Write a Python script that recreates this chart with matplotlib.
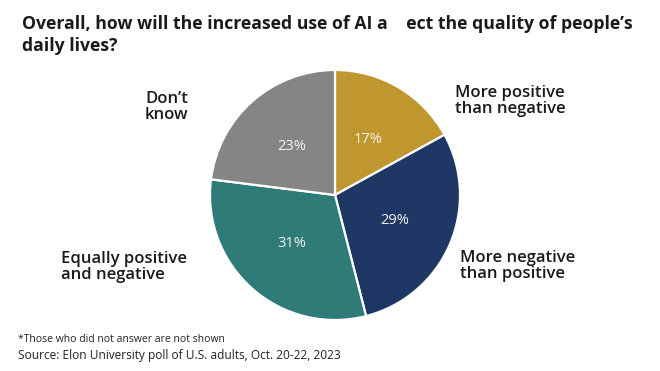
import matplotlib.pyplot as plt

plt.rcParams['font.family'] = ['Open Sans', 'DejaVu Sans']

categories = ['More positive\nthan negative', 'More negative\nthan positive',
              'Equally positive\nand negative', "Don\u2019t\nknow"]
shares = [17, 29, 31, 23]
colors = ['#C0962F', '#1E3764', '#2E7B77', '#858585']

W, H = 660, 371
fig = plt.figure(figsize=(W / 100, H / 100), dpi=100)


def px(x, y):
    return x / W, 1 - y / H


# pie: centre about (335, 195), radius ~125 px
ax = fig.add_axes([210 / W, (H - 195 - 125) / H, 250 / W, 250 / H])
wedges, texts, autotexts = ax.pie(
    shares, colors=colors, startangle=90, counterclock=False,
    autopct='%d%%', pctdistance=0.52,
    wedgeprops=dict(edgecolor='white', linewidth=1.6),
    textprops=dict(color='#f4f4f0', fontsize=10.5))
ax.set_xlim(-1, 1)
ax.set_ylim(-1, 1)
ax.set_aspect('equal')

fig.text(*px(22, 24), "Overall, how will the increased use of AI a    ect the quality of people\u2019s",
         fontsize=12.7, fontweight='bold', color='#1a1a1a', va='center', ha='left')
fig.text(*px(22, 46), "daily lives?",
         fontsize=12.7, fontweight='bold', color='#1a1a1a', va='center', ha='left')

label_pos = [(455, 101), (460, 266), (61, 267), (145, 107)]
for lab, (x, y) in zip(categories, label_pos):
    fig.text(*px(x, y), lab, fontsize=12, fontweight='semibold', color='#1a1a1a',
             va='center', ha='left', linespacing=1.08)

fig.text(*px(18, 340), "*Those who did not answer are not shown",
         fontsize=7.5, color='#222222', va='center', ha='left')
fig.text(*px(18, 356), "Source: Elon University poll of U.S. adults, Oct. 20-22, 2023",
         fontsize=8.6, color='#222222', va='center', ha='left')

fig.savefig('out.png', dpi=100, facecolor='white')
